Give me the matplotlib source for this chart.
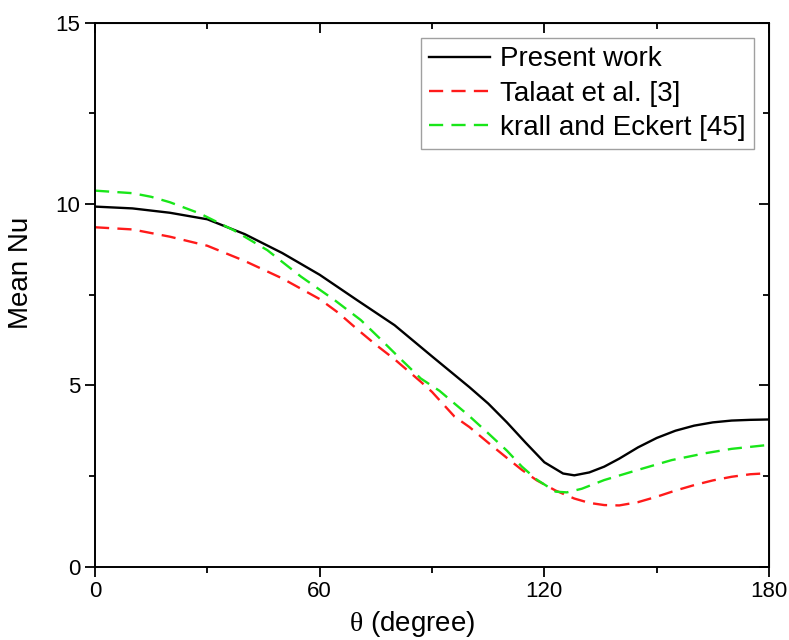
import matplotlib
matplotlib.use("Agg")
import matplotlib.pyplot as plt
from matplotlib.ticker import MultipleLocator

# Values
theta_present = [0, 10, 20, 30, 40, 50, 60, 70, 80, 90, 100, 105, 110, 115, 120,
                 125, 128, 132, 136, 140, 145, 150, 155, 160, 165, 170, 175, 180]
nu_present = [9.93, 9.88, 9.76, 9.58, 9.17, 8.65, 8.05, 7.35, 6.66, 5.80, 4.95, 4.50,
              3.98, 3.42, 2.88, 2.57, 2.52, 2.60, 2.76, 2.98, 3.29, 3.55, 3.75, 3.89,
              3.98, 4.03, 4.05, 4.06]

theta_talaat = [0, 10, 20, 30, 40, 50, 60, 65, 70, 75, 80, 87, 90, 96, 100, 105, 110,
                114, 118, 123, 128, 132, 136, 140, 145, 150, 155, 160, 165, 170, 175, 180]
nu_talaat = [9.36, 9.30, 9.10, 8.85, 8.43, 7.95, 7.38, 7.00, 6.55, 6.12, 5.72, 5.10,
             4.82, 4.14, 3.85, 3.42, 3.00, 2.67, 2.38, 2.10, 1.88, 1.76, 1.70, 1.69,
             1.78, 1.93, 2.10, 2.25, 2.38, 2.48, 2.55, 2.58]

theta_krall = [0, 10, 15, 20, 28, 37, 46, 55, 64, 71, 76, 81, 87, 92, 96, 100, 105,
               110, 114, 118, 123, 126, 130, 136, 145, 154, 163, 170, 180]
nu_krall = [10.37, 10.30, 10.20, 10.05, 9.74, 9.28, 8.73, 8.00, 7.35, 6.80, 6.30,
            5.79, 5.19, 4.85, 4.50, 4.15, 3.68, 3.20, 2.76, 2.40, 2.07, 2.05, 2.15,
            2.39, 2.67, 2.94, 3.13, 3.25, 3.36]

plt.rcParams['font.family'] = ['Liberation Sans', 'DejaVu Sans']
plt.rcParams['mathtext.fontset'] = 'custom'
plt.rcParams['mathtext.rm'] = 'Liberation Serif'

fig = plt.figure(figsize=(7.89, 6.4), dpi=100)
ax = fig.add_axes([0.1204, 0.1145, 0.8543, 0.85])

ax.plot(theta_present, nu_present, color='black', lw=1.7, label='Present work')
ax.plot(theta_talaat, nu_talaat, color='#ff1a1a', lw=1.7, dashes=(6, 3.5),
        label='Talaat et al. [3]')
ax.plot(theta_krall, nu_krall, color='#19e619', lw=1.7, dashes=(6, 3.5),
        label='krall and Eckert [45]')

ax.set_xlim(0, 180)
ax.set_ylim(0, 15)
ax.xaxis.set_major_locator(MultipleLocator(60))
ax.xaxis.set_minor_locator(MultipleLocator(30))
ax.yaxis.set_major_locator(MultipleLocator(5))
ax.yaxis.set_minor_locator(MultipleLocator(2.5))
ax.tick_params(which='major', direction='out', length=7, width=1.3, labelsize=16)
ax.tick_params(which='minor', direction='out', length=4, width=1.3)
for s in ax.spines.values():
    s.set_linewidth(1.4)

# inward ticks on top and right, no labels
top = ax.secondary_xaxis('top')
top.xaxis.set_major_locator(MultipleLocator(60))
top.xaxis.set_minor_locator(MultipleLocator(30))
top.tick_params(which='major', direction='in', length=7, width=1.3, labeltop=False)
top.tick_params(which='minor', direction='in', length=4, width=1.3)
right = ax.secondary_yaxis('right')
right.yaxis.set_major_locator(MultipleLocator(5))
right.yaxis.set_minor_locator(MultipleLocator(2.5))
right.tick_params(which='major', direction='in', length=7, width=1.3, labelright=False)
right.tick_params(which='minor', direction='in', length=4, width=1.3)

ax.set_xlabel(r'$\mathrm{θ}$ (degree)', fontsize=20)
ax.xaxis.set_label_coords(0.47, -0.078)
ax.set_ylabel('Mean Nu', fontsize=20)
ax.yaxis.set_label_coords(-0.09, 0.54)

leg = ax.legend(loc='upper right', fontsize=20, fancybox=False, edgecolor='#888888',
                borderaxespad=0.55, handlelength=2.2, handletextpad=0.35,
                labelspacing=0.3, borderpad=0.3)
leg.get_frame().set_linewidth(1.0)

fig.savefig('out.png', dpi=100)
